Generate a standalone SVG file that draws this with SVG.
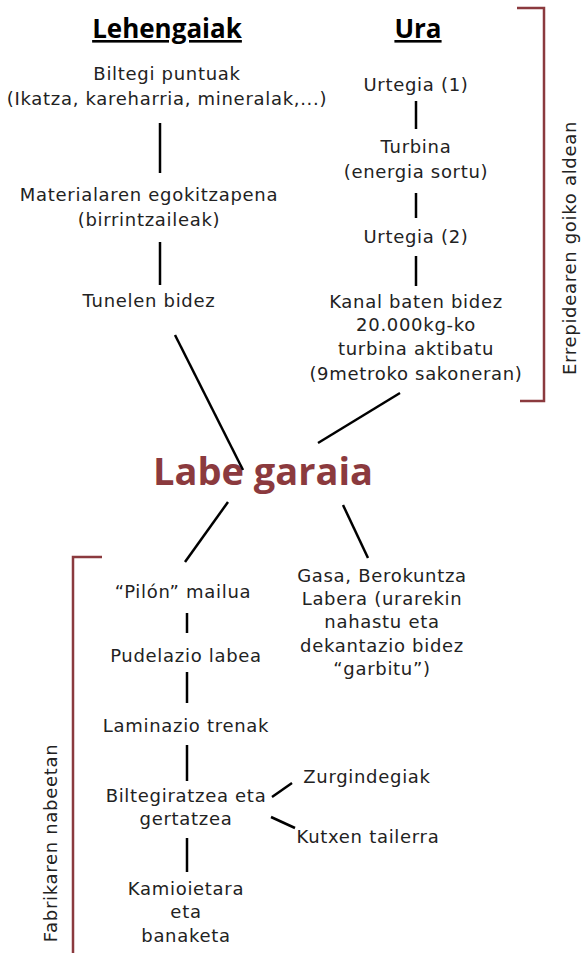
<svg xmlns="http://www.w3.org/2000/svg" width="585" height="953" viewBox="0 0 585 953">
<style>
text{font-family:"DejaVu Sans","Open Sans",sans-serif;font-size:18px;letter-spacing:0.7px;fill:#222;text-anchor:middle}
.h{font-family:"Open Sans","DejaVu Sans",sans-serif;font-weight:bold;font-size:26px;letter-spacing:0;fill:#000;text-decoration:underline}
.big{font-family:"Open Sans","DejaVu Sans",sans-serif;font-weight:bold;font-size:38px;letter-spacing:0;fill:#8b3a3e}
.c line{stroke:#000;stroke-width:2.5}
.br{fill:none;stroke:#8b3a3e;stroke-width:2.5}
</style>
<rect width="585" height="953" fill="#fff"/>
<g id="headers">
<text class="h" x="167" y="38">Lehengaiak</text>
<text class="h" x="418" y="38">Ura</text>
</g>
<g id="n-biltegi"><text x="167" y="80">Biltegi puntuak</text><text x="167" y="105">(Ikatza, kareharria, mineralak,...)</text></g>
<g id="n-material"><text x="149" y="201">Materialaren egokitzapena</text><text x="149" y="226">(birrintzaileak)</text></g>
<g id="n-tunel"><text x="149" y="307">Tunelen bidez</text></g>
<g id="n-urtegia1"><text x="416" y="91">Urtegia (1)</text></g>
<g id="n-turbina"><text x="416" y="153">Turbina</text><text x="416" y="178">(energia sortu)</text></g>
<g id="n-urtegia2"><text x="416" y="243">Urtegia (2)</text></g>
<g id="n-kanal"><text x="416" y="308">Kanal baten bidez</text><text x="416" y="331">20.000kg-ko</text><text x="416" y="355">turbina aktibatu</text><text x="416" y="380">(9metroko sakoneran)</text></g>
<g id="n-labe"><text class="big" x="263" y="485">Labe garaia</text></g>
<g id="n-pilon"><text x="183" y="598">“Pilón” mailua</text></g>
<g id="n-gasa"><text x="382" y="582">Gasa, Berokuntza</text><text x="382" y="605">Labera (urarekin</text><text x="382" y="628">nahastu eta</text><text x="382" y="652">dekantazio bidez</text><text x="382" y="675">“garbitu”)</text></g>
<g id="n-pudelazio"><text x="186" y="662">Pudelazio labea</text></g>
<g id="n-laminazio"><text x="186" y="732">Laminazio trenak</text></g>
<g id="n-biltegiratzea"><text x="186" y="802">Biltegiratzea eta</text><text x="186" y="825">gertatzea</text></g>
<g id="n-zurgindegiak"><text x="367" y="783">Zurgindegiak</text></g>
<g id="n-kutxen"><text x="368" y="843">Kutxen tailerra</text></g>
<g id="n-kamioi"><text x="186" y="895">Kamioietara</text><text x="186" y="918">eta</text><text x="186" y="942">banaketa</text></g>
<g id="brackets">
<polyline class="br" points="517,8 544,8 544,401 520,401"/>
<text transform="translate(576,248) rotate(-90)">Errepidearen goiko aldean</text>
<polyline class="br" points="102,557 73,557 73,953"/>
<text transform="translate(57,843) rotate(-90)">Fabrikaren nabeetan</text>
</g>
<g class="c" id="connectors">
<line x1="160" y1="123" x2="160" y2="173"/>
<line x1="160" y1="242" x2="160" y2="285"/>
<line x1="175" y1="335" x2="243" y2="470"/>
<line x1="416" y1="101" x2="416" y2="129"/>
<line x1="416" y1="193" x2="416" y2="218"/>
<line x1="416" y1="256" x2="416" y2="286"/>
<line x1="400" y1="393" x2="318" y2="443"/>
<line x1="228" y1="502" x2="185" y2="562"/>
<line x1="343" y1="505" x2="368" y2="558"/>
<line x1="187" y1="613" x2="187" y2="633"/>
<line x1="187" y1="672" x2="187" y2="703"/>
<line x1="187" y1="745" x2="187" y2="781"/>
<line x1="272" y1="797" x2="292" y2="783"/>
<line x1="271" y1="817" x2="295" y2="828"/>
<line x1="187" y1="838" x2="187" y2="872"/>
</g>
</svg>
